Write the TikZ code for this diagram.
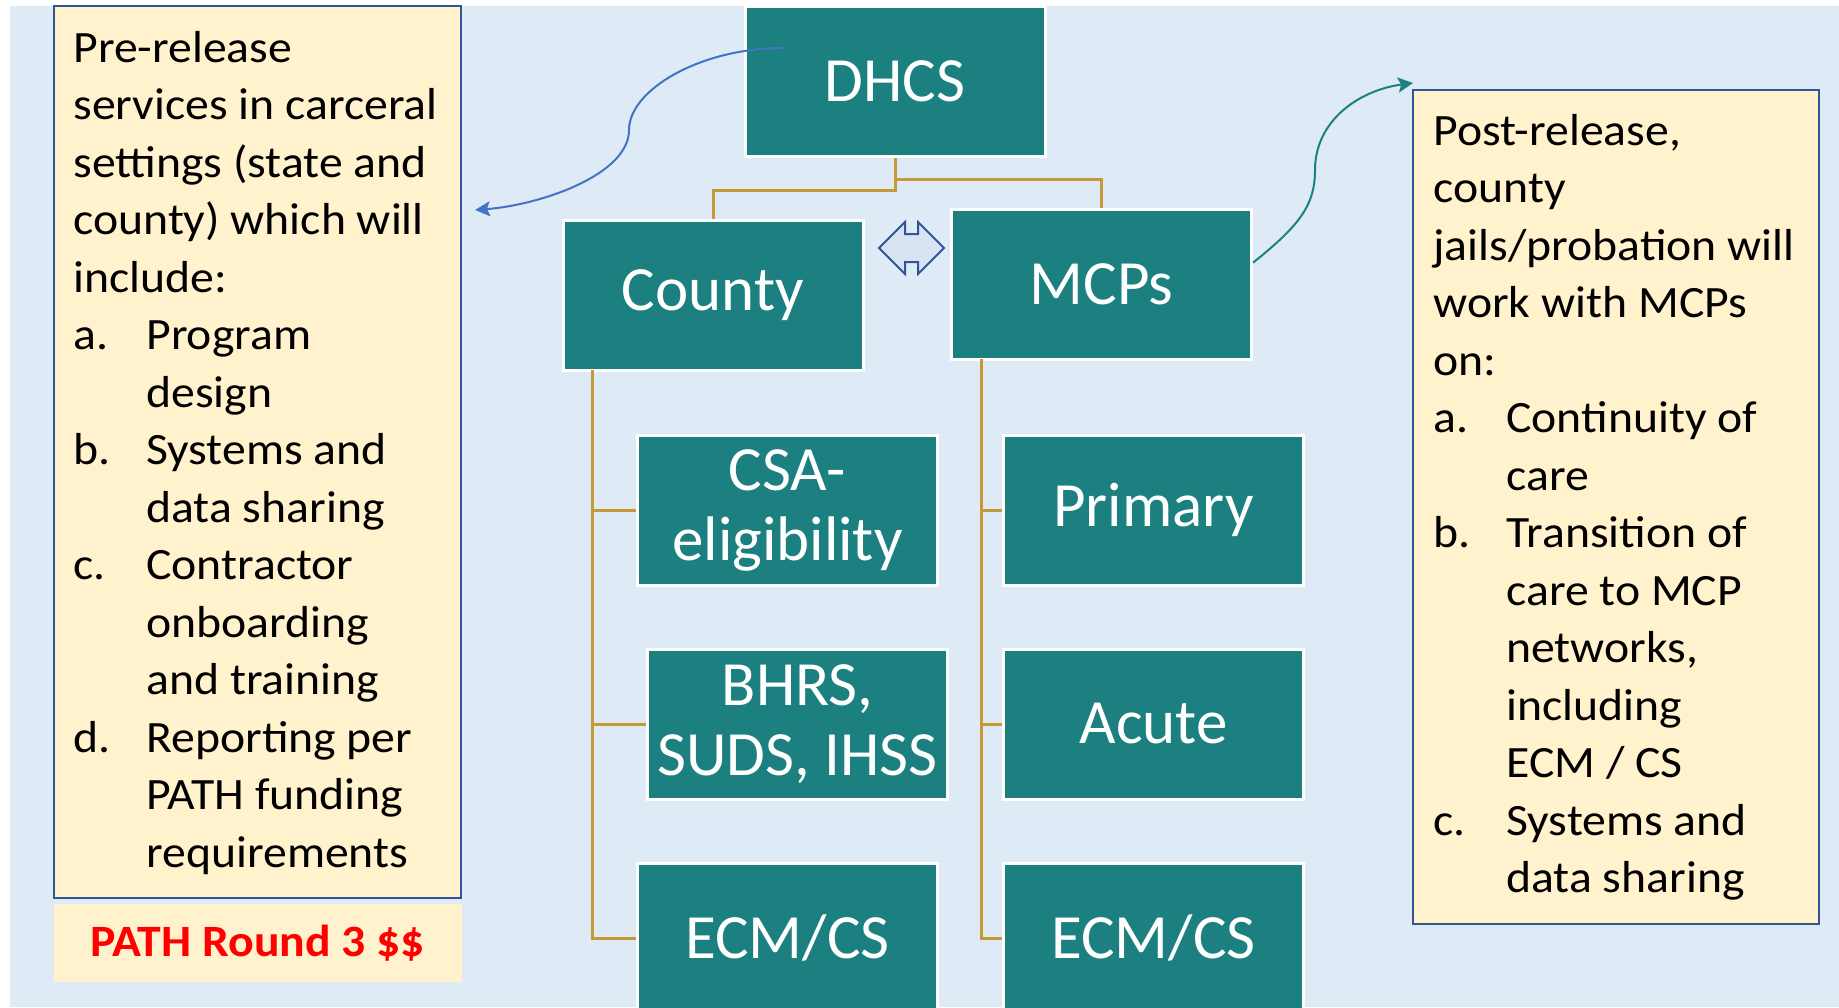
\documentclass[tikz,border=0pt]{standalone}
\usepackage{fontspec}
\setmainfont{Carlito}
\newfontfamily\notefont[FakeStretch=1.065]{Carlito}
\usetikzlibrary{arrows.meta,shapes.arrows}

\definecolor{tealbox}{HTML}{1D8080}
\definecolor{bluebg}{HTML}{DEEAF6}
\definecolor{cream}{HTML}{FFF2CC}
\definecolor{edgeblue}{HTML}{2F5597}
\definecolor{arrowblue}{HTML}{4472C4}
\definecolor{lavender}{HTML}{D9E2F3}
\definecolor{gold}{HTML}{C39A35}

\newcommand{\lbl}[1]{\makebox[36.5pt][l]{#1}}
\newcommand{\cont}{\hspace*{36.5pt}}

\begin{document}
\begin{tikzpicture}[x=0.5pt,y=-0.5pt,>={Stealth[length=7.5pt,width=7.5pt,inset=1.5pt]},
  node distance=107pt,
  unit/.style={rectangle,draw=white,line width=1.5pt,fill=tealbox,text=white,
    minimum width=150pt,minimum height=75pt,align=center,
    font=\fontsize{31.5}{35}\selectfont},
  tree/.style={draw=gold,line width=1.5pt},
  note/.style={rectangle,draw=edgeblue,line width=0.75pt,fill=cream,anchor=north west},
  notetext/.style={anchor=north west,inner sep=0pt,align=left,
    font=\notefont\fontsize{22.4}{28.75}\selectfont}]

\useasboundingbox (0,0) rectangle (1839,1007);
\fill[white] (0,0) rectangle (1839,1007);
\fill[bluebg] (10,6) rectangle (1839,1007);

% side notes
\node[note,minimum width=203.5pt,minimum height=446pt] (prebox) at (53,5) {};
\node[notetext] (pretext) at (73,30.5) {Pre-release\\ services in carceral\\ settings (state and\\
  county) which will\\ include:\\ \lbl{a.}Program\\ \cont design\\ \lbl{b.}Systems and\\
  \cont data sharing\\ \lbl{c.}Contractor\\ \cont onboarding\\ \cont and training\\
  \lbl{d.}Reporting per\\ \cont PATH funding\\ \cont requirements};
\node[note,draw=none,minimum width=204pt,minimum height=39pt,text=red,
  font=\notefont\fontsize{22.4}{26}\selectfont\bfseries] (pathbox) at (53,903) {PATH Round 3 \$\$};

\node[note,minimum width=203pt,minimum height=417pt] (postbox) at (1412,89) {};
\node[notetext] (posttext) at (1433,113.5) {Post-release,\\ county\\ jails/probation will\\
  work with MCPs\\ on:\\ \lbl{a.}Continuity of\\ \cont care\\ \lbl{b.}Transition of\\
  \cont care to MCP\\ \cont networks,\\ \cont including\\ \cont ECM / CS\\
  \lbl{c.}Systems and\\ \cont data sharing};

% org chart
\node[unit] (dhcs)   at (895,81.5)   {DHCS};
\node[unit] (county) at (713,295.5)  {County};
\node[unit] (mcps)   at (1101.5,284) {MCPs};

\node[unit] (csa)  at (787.5,510)             {CSA-\\eligibility};
\node[unit] (bhrs) [below of=csa,xshift=5pt]   {BHRS,\\SUDS, IHSS};
\node[unit] (ecml) [below of=bhrs,xshift=-5pt] {ECM/CS};

\node[unit] (primary) at (1153.5,510)     {Primary};
\node[unit] (acute)   [below of=primary]  {Acute};
\node[unit] (ecmr)    [below of=acute]    {ECM/CS};

\node[double arrow,draw=edgeblue,fill=lavender,line width=1pt,inner xsep=0pt,inner ysep=6.5pt,
  minimum height=32.5pt,minimum width=25pt,double arrow head extend=6pt] (link) at (911.5,248) {};

\coordinate (ctrunk) at (592,370);
\coordinate (mtrunk) at (981,359);
\path[tree] (dhcs.south) -- ++(0,21) -| (mcps.north)
            (dhcs.south) -- ++(0,32) -| (county.north);
\path[tree] (ctrunk) |- (csa.west)  (ctrunk) |- (bhrs.west)  (ctrunk) |- (ecml.west);
\path[tree] (mtrunk) |- (primary.west)  (mtrunk) |- (acute.west)  (mtrunk) |- (ecmr.west);

% curved pointers
\coordinate (dstart)  at (783,48);
\coordinate (preend)  at (475,210);
\coordinate (postend) at (1413,83);
\draw[->,arrowblue,line width=1pt] (dstart) .. controls (700,48) and (629,90) .. (629,130)
  .. controls (629,175) and (540,205) .. (preend);
\draw[->,tealbox,line width=1pt] (mcps.8) .. controls (1300,225) and (1315,205) .. (1315,170)
  .. controls (1315,120) and (1360,90) .. (postend);
\end{tikzpicture}
\end{document}
